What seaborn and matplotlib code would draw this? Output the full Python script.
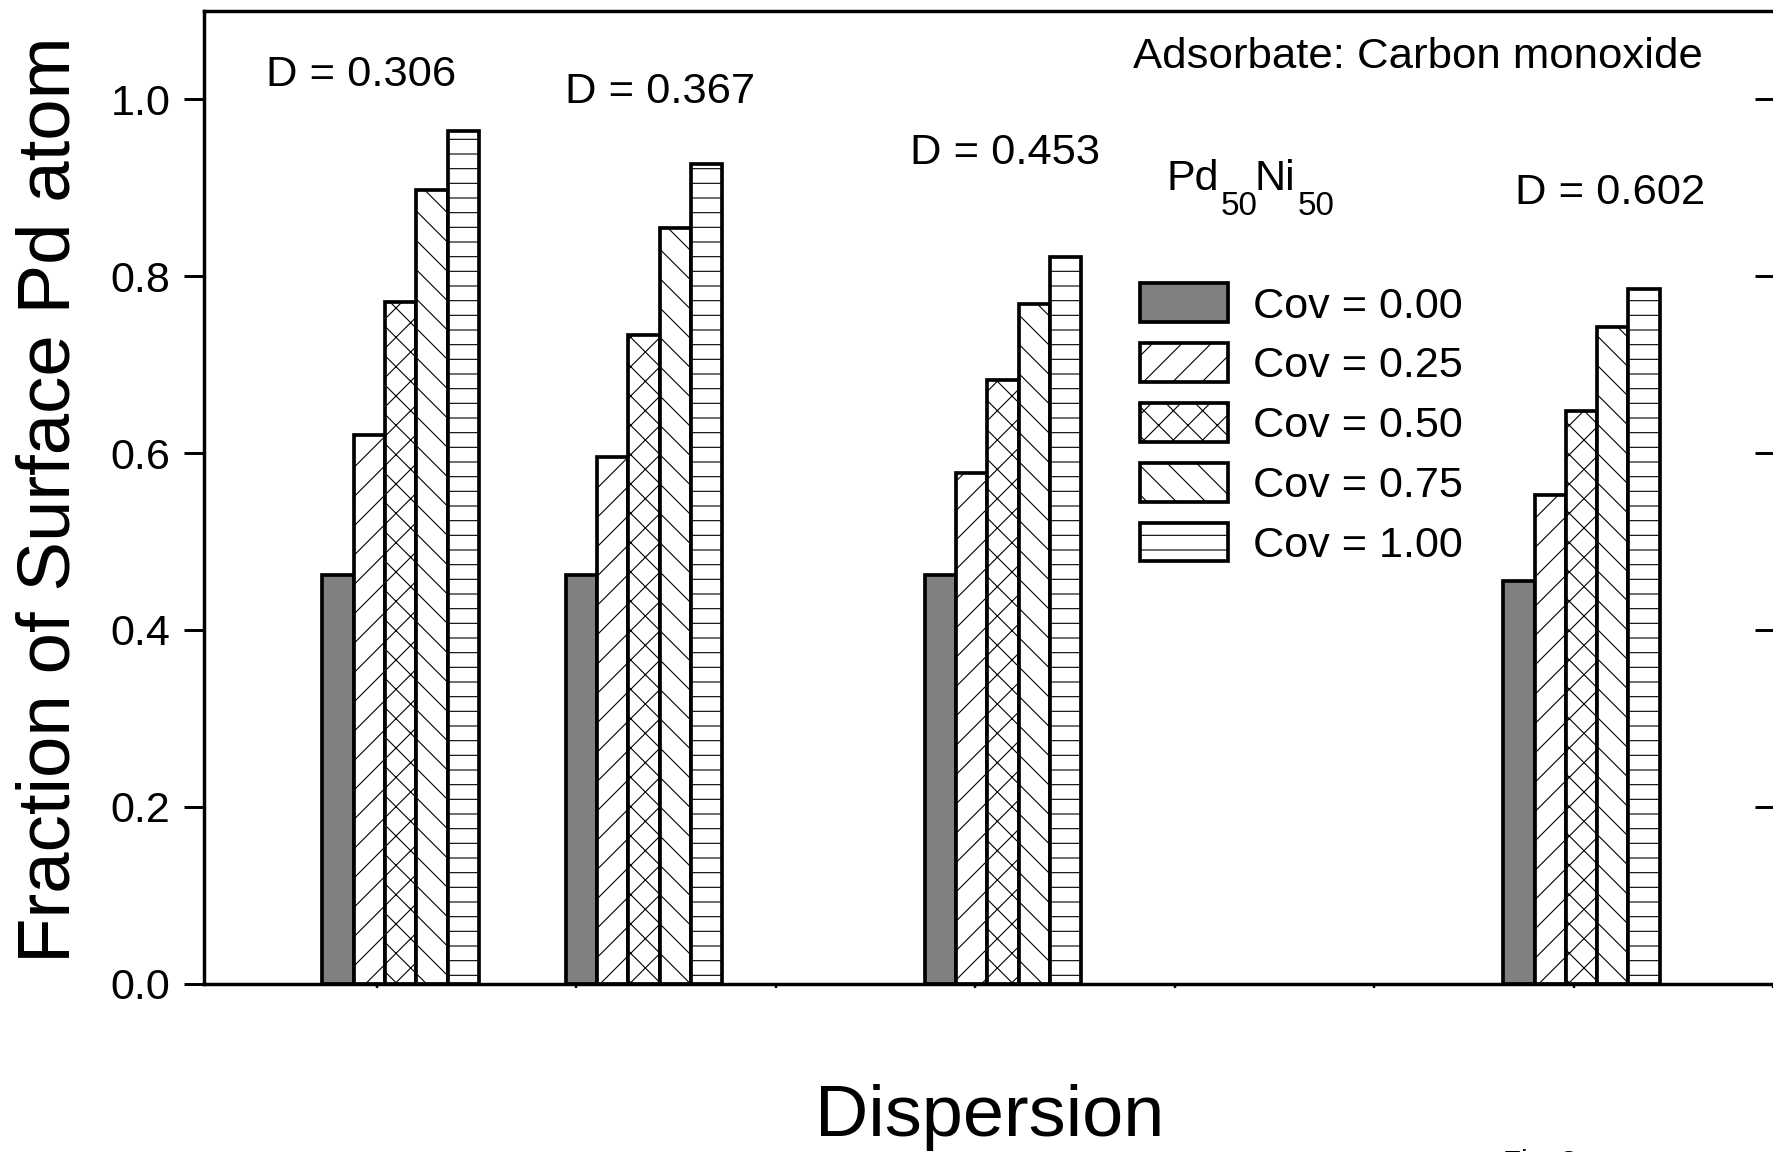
import numpy as np
import pandas as pd
import matplotlib
matplotlib.use("Agg")
import matplotlib.pyplot as plt
import seaborn as sns

# bar group positions on the dispersion axis (as drawn) and their labels
dispersion = [0.306, 0.367, 0.457, 0.602]
dispersion_labels = ["D = 0.306", "D = 0.367", "D = 0.453", "D = 0.602"]
coverage = ["Cov = 0.00", "Cov = 0.25", "Cov = 0.50", "Cov = 0.75", "Cov = 1.00"]

# fraction of surface Pd atoms, one list per CO coverage
cov_000 = [0.462, 0.462, 0.462, 0.455]
cov_025 = [0.620, 0.595, 0.577, 0.552]
cov_050 = [0.771, 0.734, 0.683, 0.648]
cov_075 = [0.898, 0.855, 0.769, 0.743]
cov_100 = [0.964, 0.927, 0.822, 0.786]

y_ticks = [0.0, 0.2, 0.4, 0.6, 0.8, 1.0]
x_ticks = [0.30, 0.35, 0.40, 0.45, 0.50, 0.55, 0.60, 0.65]

W, H, DPI = 1773, 1152, 88.65

sns.set_style("ticks")
plt.rcParams["font.family"] = ["Liberation Sans", "DejaVu Sans"]
plt.rcParams["hatch.linewidth"] = 0.9
plt.rcParams["text.color"] = "black"
plt.rcParams["axes.labelcolor"] = "black"

df = pd.DataFrame({
    "dispersion": np.tile(dispersion, len(coverage)),
    "coverage": np.repeat(coverage, len(dispersion)),
    "fraction": np.concatenate([cov_000, cov_025, cov_050, cov_075, cov_100]),
})

fig = plt.figure(figsize=(W / DPI, H / DPI), dpi=DPI)
ax = fig.add_axes([203.5 / W, (H - 983.5) / H, (1775 - 203.5) / W, (983.5 - 11) / H])

group_width = 0.0392
sns.barplot(data=df, x="dispersion", y="fraction", hue="coverage", hue_order=coverage,
            native_scale=True, width=group_width / np.diff(sorted(dispersion)).min(),
            dodge=True, gap=0, palette=["#808080"] + ["white"] * 4, saturation=1,
            edgecolor="black", linewidth=3.0, errorbar=None, legend=False, ax=ax)

# hatches per coverage level
hatches = ["", "/", "x", "\\", "-"]
bars = sorted(ax.containers, key=lambda c: min(p.get_x() for p in c))
for cont, h in zip(bars, hatches):
    for p in cont:
        p.set_hatch(h)

ax.set_xlim(0.2566, 0.6505)
ax.set_ylim(0, 1.1)
ax.set_xticks(x_ticks)
ax.set_xticklabels([])
ax.set_yticks(y_ticks)
ax.set_yticklabels([f"{v:.1f}" for v in y_ticks])
ax.tick_params(axis="x", direction="out", length=3.5, width=2, colors="black")
ax.tick_params(axis="y", direction="out", length=16, width=2.4, pad=11, labelsize=35,
               colors="black")
for s in ax.spines.values():
    s.set_linewidth(2.8)
    s.set_color("black")

sec = ax.secondary_yaxis("right")
sec.set_yticks(y_ticks)
sec.tick_params(direction="in", length=16, width=2.4, labelright=False, colors="black")

ax.set_xlabel("Dispersion", fontsize=60)
ax.xaxis.label.set_va("baseline")
ax.xaxis.set_label_coords(0.5, -0.1568)
ax.set_ylabel("Fraction of Surface Pd atom", fontsize=60.5)
ax.yaxis.label.set_va("baseline")
ax.yaxis.set_label_coords(-0.085, 0.498)

ax.legend(bars, coverage, loc="upper left", bbox_to_anchor=(1140 / W, 1 - 283.5 / H),
          bbox_transform=fig.transFigure, frameon=False, fontsize=35,
          handlelength=2.04, handleheight=1.0, handletextpad=0.58,
          labelspacing=0.39, borderpad=0, borderaxespad=0)

# annotations (figure pixel positions, text baseline)
label_pos = [(265.7, 86), (565.4, 103), (910.2, 164), (1515, 203.5)]
for s, (x, y) in zip(dispersion_labels, label_pos):
    fig.text(x / W, 1 - y / H, s, fontsize=35.3, va="baseline")

fig.text(1133 / W, 1 - 68 / H, "Adsorbate: Carbon monoxide", fontsize=35.5, va="baseline")

# Pd50Ni50 with lowered subscripts
for s, x, y, fs in [("Pd", 1167, 190, 35), ("50", 1221, 215, 27),
                    ("Ni", 1255, 190, 35), ("50", 1298, 215, 27)]:
    fig.text(x / W, 1 - y / H, s, fontsize=fs, va="baseline")

# caption cut off at the bottom edge, as in the source image
fig.text(1503 / W, 1 - 1149 / H, "Fig. 3", fontsize=24, va="top")

fig.savefig("out.png", dpi=DPI)
